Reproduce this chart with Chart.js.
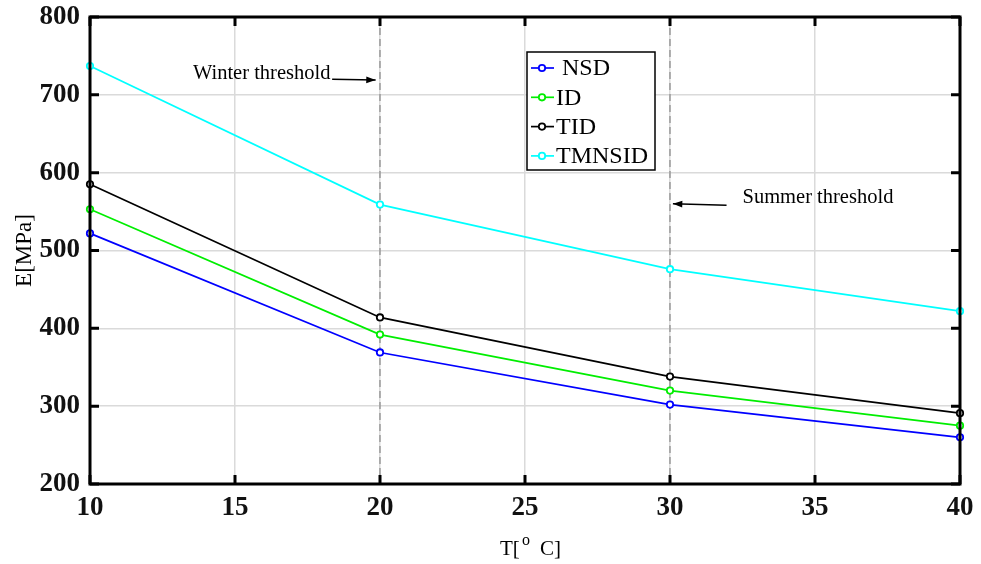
<!DOCTYPE html>
<html>
<head>
<meta charset="utf-8">
<script src="https://cdn.jsdelivr.net/npm/chart.js@4/dist/chart.umd.min.js"></script>
<style>
  body { margin: 0; background: #fff; }
  #wrap { width: 981px; height: 564px; }
</style>
</head>
<body>
<div id="wrap"><canvas id="myChart" width="981" height="564"></canvas></div>
<script>
// values
const temps = [10, 20, 30, 40];
const nsd = [522, 369, 302, 260];
const id = [553, 392, 320, 275];
const tid = [585, 414, 338, 291];
const tmnsid = [737, 559, 476, 422];

const names = ['NSD', 'ID', 'TID', 'TMNSID'];
const colors = ['#0000ff', '#00ee00', '#000000', '#00ffff'];
const seriesList = [nsd, id, tid, tmnsid];

const thresholds = [20, 30];
const serif = "'Liberation Serif', 'Times New Roman', serif";

function makeSet(i) {
    return {
        label: names[i],
        data: temps.map(function (t, k) { return { x: t, y: seriesList[i][k] }; }),
        borderColor: colors[i],
        backgroundColor: colors[i],
        pointBackgroundColor: '#ffffff',
        pointBorderColor: colors[i],
        pointRadius: 3.2,
        pointBorderWidth: 1.8,
        borderWidth: 1.7,
        tension: 0,
        clip: false
    };
}

function arrow(ctx, x1, y1, x2, y2) {
    ctx.beginPath();
    ctx.moveTo(x1, y1);
    ctx.lineTo(x2, y2);
    ctx.stroke();
    var a = Math.atan2(y2 - y1, x2 - x1);
    ctx.beginPath();
    ctx.moveTo(x2, y2);
    ctx.lineTo(x2 - 10 * Math.cos(a - 0.35), y2 - 10 * Math.sin(a - 0.35));
    ctx.lineTo(x2 - 10 * Math.cos(a + 0.35), y2 - 10 * Math.sin(a + 0.35));
    ctx.closePath();
    ctx.fill();
}

const extras = {
    id: 'extras',
    beforeDatasetsDraw(chart) {
        var ctx = chart.ctx, a = chart.chartArea, xs = chart.scales.x;
        ctx.save();
        ctx.strokeStyle = '#777';
        ctx.lineWidth = 1;
        ctx.setLineDash([7, 4]);
        thresholds.forEach(function (t) {
            var px = xs.getPixelForValue(t);
            ctx.beginPath();
            ctx.moveTo(px, a.top);
            ctx.lineTo(px, a.bottom);
            ctx.stroke();
        });
        ctx.restore();
    },
    afterDraw(chart) {
        var ctx = chart.ctx, a = chart.chartArea;
        var xs = chart.scales.x, ys = chart.scales.y;
        ctx.save();

        // frame and inward ticks
        ctx.strokeStyle = '#000';
        ctx.lineWidth = 3;
        ctx.strokeRect(a.left, a.top, a.right - a.left, a.bottom - a.top);
        ys.ticks.forEach(function (t) {
            var py = ys.getPixelForValue(t.value);
            ctx.beginPath();
            ctx.moveTo(a.left, py); ctx.lineTo(a.left + 9, py);
            ctx.moveTo(a.right, py); ctx.lineTo(a.right - 9, py);
            ctx.stroke();
        });
        xs.ticks.forEach(function (t) {
            var px = xs.getPixelForValue(t.value);
            ctx.beginPath();
            ctx.moveTo(px, a.bottom); ctx.lineTo(px, a.bottom - 9);
            ctx.moveTo(px, a.top); ctx.lineTo(px, a.top + 9);
            ctx.stroke();
        });

        // annotations
        ctx.fillStyle = '#000';
        ctx.strokeStyle = '#000';
        ctx.lineWidth = 1.5;
        ctx.font = '20.5px ' + serif;
        ctx.textBaseline = 'alphabetic';
        ctx.textAlign = 'left';
        ctx.fillText('Winter threshold', xs.getPixelForValue(13.55), ys.getPixelForValue(720));
        arrow(ctx, xs.getPixelForValue(18.35), ys.getPixelForValue(720), xs.getPixelForValue(19.85), ys.getPixelForValue(719));
        ctx.fillText('Summer threshold', xs.getPixelForValue(32.5), ys.getPixelForValue(561));
        arrow(ctx, xs.getPixelForValue(31.95), ys.getPixelForValue(558), xs.getPixelForValue(30.1), ys.getPixelForValue(560));

        // legend
        var lx = 527, ly = 52, lw = 128, lh = 118;
        ctx.fillStyle = '#fff';
        ctx.fillRect(lx, ly, lw, lh);
        ctx.strokeStyle = '#000';
        ctx.lineWidth = 1.5;
        ctx.strokeRect(lx, ly, lw, lh);
        ctx.font = '24px ' + serif;
        ctx.textBaseline = 'middle';
        names.forEach(function (n, i) {
            var yy = ly + 16 + i * 29.3;
            ctx.strokeStyle = colors[i];
            ctx.lineWidth = 1.7;
            ctx.beginPath();
            ctx.moveTo(lx + 4, yy); ctx.lineTo(lx + 27, yy);
            ctx.stroke();
            ctx.fillStyle = '#fff';
            ctx.lineWidth = 1.8;
            ctx.beginPath();
            ctx.arc(lx + 15, yy, 3.2, 0, Math.PI * 2);
            ctx.fill();
            ctx.stroke();
            ctx.fillStyle = '#000';
            ctx.fillText((i === 0 ? ' ' : '') + n, lx + 29, yy + 1);
        });

        // axis titles
        ctx.fillStyle = '#000';
        ctx.textBaseline = 'alphabetic';
        ctx.textAlign = 'left';
        var cx = (a.left + a.right) / 2, by = 555;
        ctx.font = '21px ' + serif;
        ctx.fillText('T[', cx - 25, by);
        ctx.fillText('C]', cx + 15, by);
        ctx.font = '16px ' + serif;
        ctx.fillText('o', cx - 3, by - 10);

        ctx.font = '23px ' + serif;
        ctx.translate(31, (a.top + a.bottom) / 2);
        ctx.rotate(-Math.PI / 2);
        ctx.textAlign = 'center';
        ctx.fillText('E[MPa]', 0, 0);
        ctx.restore();
    }
};

new Chart('myChart', {
    type: 'line',
    data: {
        datasets: [makeSet(0), makeSet(1), makeSet(2), makeSet(3)]
    },
    options: {
        responsive: false,
        animation: false,
        layout: { padding: { top: 17, right: 21, left: 0, bottom: 0 } },
        plugins: {
            legend: { display: false },
            tooltip: { enabled: false }
        },
        scales: {
            x: {
                type: 'linear',
                min: 10,
                max: 40,
                ticks: {
                    stepSize: 5,
                    color: '#111',
                    padding: 8,
                    maxRotation: 0,
                    font: { family: serif, size: 27, weight: 'bold' }
                },
                grid: { color: '#dadada', lineWidth: 1.5, drawTicks: false },
                border: { display: false },
                afterFit: function (s) {
                    s.height = 80;
                    s.paddingLeft = 0;
                    s.paddingRight = 0;
                }
            },
            y: {
                min: 200,
                max: 800,
                ticks: {
                    stepSize: 100,
                    color: '#111',
                    padding: 10,
                    font: { family: serif, size: 27, weight: 'bold' }
                },
                grid: { color: '#dadada', lineWidth: 1.5, drawTicks: false },
                border: { display: false },
                afterFit: function (s) {
                    s.width = 90;
                    s.paddingTop = 0;
                    s.paddingBottom = 0;
                }
            }
        }
    },
    plugins: [extras]
});
</script>
</body>
</html>
